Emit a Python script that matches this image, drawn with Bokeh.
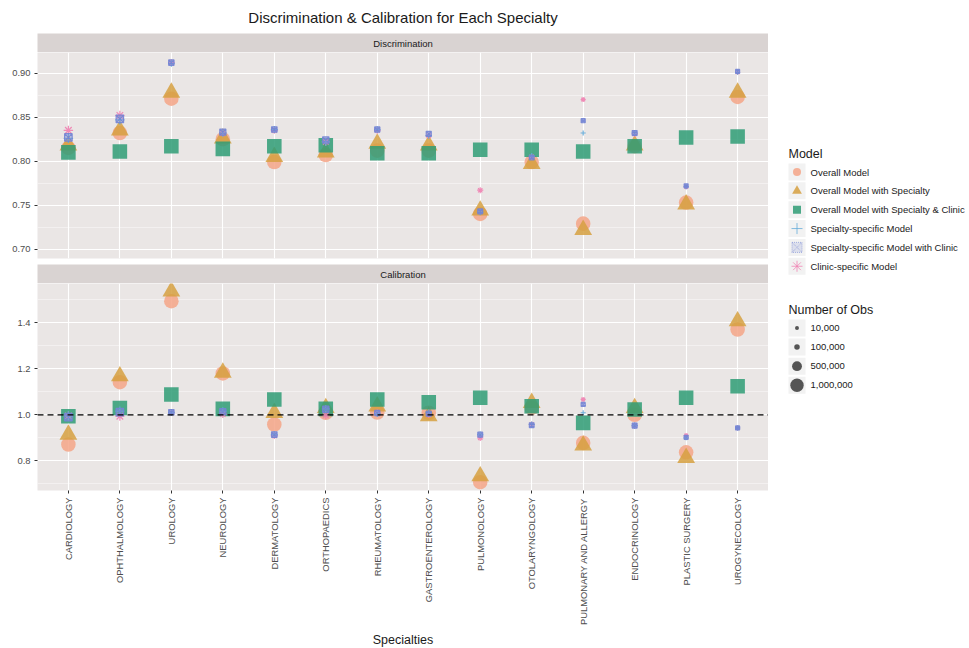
import math

from bokeh.core.properties import value
from bokeh.embed import file_html
from bokeh.layouts import column, row
from bokeh.models import (ColumnDataSource, FactorRange, NumeralTickFormatter,
                          Range1d, SingleIntervalTicker, Span)
from bokeh.plotting import figure
from bokeh.resources import INLINE

# ---------------------------------------------------------------- data
specialties = [
    "CARDIOLOGY", "OPHTHALMOLOGY", "UROLOGY", "NEUROLOGY", "DERMATOLOGY",
    "ORTHOPAEDICS", "RHEUMATOLOGY", "GASTROENTEROLOGY", "PULMONOLOGY",
    "OTOLARYNGOLOGY", "PULMONARY AND ALLERGY", "ENDOCRINOLOGY",
    "PLASTIC SURGERY", "UROGYNECOLOGY",
]

models = [
    "Overall Model",
    "Overall Model with Specialty",
    "Overall Model with Specialty & Clinic",
    "Specialty-specific Model",
    "Specialty-specific Model with Clinic",
    "Clinic-specific Model",
]

# Discrimination (AUC) per specialty, one list per model
disc_overall = [0.815, 0.832, 0.871, 0.825, 0.799, 0.807, 0.812, 0.812, 0.740, 0.799, 0.729, 0.817, 0.753, 0.873]
disc_overall_spec = [0.818, 0.835, 0.878, 0.826, 0.805, 0.810, 0.820, 0.818, 0.744, 0.797, 0.722, 0.818, 0.751, 0.878]
disc_overall_spec_clinic = [0.810, 0.811, 0.817, 0.814, 0.817, 0.818, 0.809, 0.809, 0.813, 0.813, 0.811, 0.817, 0.827, 0.828]
disc_spec = [0.826, 0.847, 0.911, 0.832, 0.836, 0.822, 0.836, 0.829, 0.742, 0.806, 0.832, 0.832, 0.771, 0.901]
disc_spec_clinic = [0.827, 0.848, 0.912, 0.833, 0.836, 0.824, 0.836, 0.831, 0.743, 0.804, 0.846, 0.832, 0.772, 0.902]
disc_clinic = [0.835, 0.852, 0.912, 0.832, 0.835, 0.822, 0.835, 0.829, 0.767, 0.805, 0.870, 0.831, 0.771, 0.901]

# Calibration (observed / expected) per specialty, one list per model
calib_overall = [0.871, 1.142, 1.494, 1.180, 0.958, 1.009, 1.010, 1.009, 0.707, 1.030, 0.878, 1.000, 0.837, 1.371]
calib_overall_spec = [0.914, 1.168, 1.537, 1.184, 1.009, 1.030, 1.037, 0.994, 0.733, 1.052, 0.867, 1.030, 0.813, 1.407]
calib_overall_spec_clinic = [0.994, 1.030, 1.088, 1.026, 1.067, 1.026, 1.067, 1.055, 1.074, 1.037, 0.965, 1.023, 1.074, 1.124]
calib_spec = [0.995, 1.016, 1.011, 1.016, 0.914, 1.026, 1.005, 1.010, 0.914, 0.958, 1.009, 0.953, 0.900, 0.943]
calib_spec_clinic = [0.990, 1.012, 1.011, 1.014, 0.914, 1.024, 1.008, 1.005, 0.914, 0.955, 1.045, 0.953, 0.902, 0.943]
calib_clinic = [0.995, 0.994, 1.010, 1.003, 0.910, 0.998, 1.010, 1.000, 0.900, 0.958, 1.067, 0.953, 0.910, 0.943]

# Number of observations used to fit each model
obs_overall = 1200000
obs_specialty = [260000, 250000, 90000, 140000, 100000, 160000, 80000, 70000, 60000, 50000, 15000, 60000, 12000, 12000]

obs_breaks = [10000, 100000, 500000, 1000000]
obs_break_labels = ["10,000", "100,000", "500,000", "1,000,000"]

disc_by_model = [disc_overall, disc_overall_spec, disc_overall_spec_clinic,
                 disc_spec, disc_spec_clinic, disc_clinic]
calib_by_model = [calib_overall, calib_overall_spec, calib_overall_spec_clinic,
                  calib_spec, calib_spec_clinic, calib_clinic]

# ---------------------------------------------------------------- styling
FONT = "Liberation Sans"
PANEL_BG = "#EAE6E5"
STRIP_BG = "#D9D3D2"
TEXT_DARK = "#1A1A1A"
TICK_TEXT = "#4D4D4D"

# marker, fill colour, line colour, size factor, filled?
MARKERS = [
    ("circle", "#F4A487", None, 1.0, True),
    ("triangle", "#D6A041", None, 1.22, True),
    ("square", "#2F9C76", None, 1.0, True),
    ("cross", "#5FA8D8", "#5FA8D8", 1.25, False),
    ("square_x", "#8895D8", "#7384D4", 1.0, False),
    ("asterisk", "#F07FB0", "#F07FB0", 1.25, False),
]
# the clinic-specific asterisks sit underneath the specialty-specific marks
DRAW_ORDER = [0, 1, 2, 5, 3, 4]


def obs_to_px(n):
    """Area-proportional size scale for the number of observations."""
    return math.sqrt(14 + 0.000165 * n)


FRAME_W = 731
LEFT = 37


def style_panel(p):
    p.background_fill_color = PANEL_BG
    p.border_fill_color = "white"
    p.outline_line_color = None
    p.ygrid.grid_line_color = "white"
    p.ygrid.grid_line_width = 1.1
    p.ygrid.minor_grid_line_color = "white"
    p.ygrid.minor_grid_line_width = 0.6
    p.ygrid.minor_grid_line_alpha = 0.7
    p.xgrid.grid_line_color = "white"
    p.xgrid.grid_line_width = 1.1
    for ax in p.yaxis:
        ax.axis_line_color = None
        ax.major_tick_line_color = "#333333"
        ax.major_tick_out = 3
        ax.major_tick_in = 0
        ax.minor_tick_line_color = None
        ax.major_label_text_font = FONT
        ax.major_label_text_font_size = "9.4px"
        ax.major_label_text_color = TICK_TEXT
        ax.major_label_standoff = 3


def add_points(p, values_by_model):
    for k in DRAW_ORDER:
        marker, fill, line, fac, filled = MARKERS[k]
        if k < 3:
            sizes = [obs_to_px(obs_overall) * fac for _ in specialties]
        else:
            sizes = [obs_to_px(n) * fac for n in obs_specialty]
        src = ColumnDataSource(dict(x=specialties, y=values_by_model[k], s=sizes))
        if filled:
            p.scatter("x", "y", size="s", marker=marker, source=src,
                      fill_color=fill, fill_alpha=0.85, line_color=None)
        elif marker == "square_x":
            p.scatter("x", "y", size="s", marker=marker, source=src,
                      fill_color=fill, fill_alpha=0.45, line_color=line,
                      line_width=1.2, line_alpha=0.9)
        else:
            p.scatter("x", "y", size="s", marker=marker, source=src,
                      fill_color=None, line_color=line, line_width=1.2,
                      line_alpha=0.9)


def make_x_range():
    return FactorRange(*specialties, range_padding=0.1,
                       range_padding_units="absolute")


def strip(label):
    s = figure(frame_width=FRAME_W, frame_height=19, min_border_left=LEFT,
               min_border_right=0, min_border_top=0, min_border_bottom=0,
               x_range=Range1d(0, 1), y_range=Range1d(0, 1),
               toolbar_location=None, output_backend="svg")
    s.axis.visible = False
    s.grid.visible = False
    s.outline_line_color = None
    s.background_fill_color = STRIP_BG
    s.border_fill_color = "white"
    s.text(x=[0.5], y=[0.5], text=[label], text_align="center",
           text_baseline="middle", text_font=value(FONT),
           text_font_size="9.5px", text_color=TEXT_DARK)
    return s


# ---------------------------------------------------------------- title
title_fig = figure(frame_width=FRAME_W, frame_height=33, min_border_left=LEFT,
                   min_border_right=0, min_border_top=0, min_border_bottom=0,
                   x_range=Range1d(0, 1), y_range=Range1d(0, 33),
                   toolbar_location=None, output_backend="svg")
title_fig.axis.visible = False
title_fig.grid.visible = False
title_fig.outline_line_color = None
title_fig.background_fill_color = "white"
title_fig.text(x=[0.5], y=[16], text=["Discrimination & Calibration for Each Specialty"],
               text_align="center", text_baseline="middle", text_font=value(FONT),
               text_font_size="15px", text_color=TEXT_DARK)

# ---------------------------------------------------------------- discrimination
top = figure(x_range=make_x_range(), y_range=Range1d(0.6894, 0.9235),
             frame_width=FRAME_W, frame_height=206, min_border_left=LEFT,
             min_border_right=0, min_border_top=0, min_border_bottom=6,
             toolbar_location=None, output_backend="svg")
top.yaxis.ticker = SingleIntervalTicker(interval=0.05, num_minor_ticks=2)
top.yaxis.formatter = NumeralTickFormatter(format="0.00")
style_panel(top)
top.xaxis.visible = False
add_points(top, disc_by_model)

# ---------------------------------------------------------------- calibration
bottom = figure(x_range=make_x_range(), y_range=Range1d(0.671, 1.571),
                frame_width=FRAME_W, frame_height=207, min_border_left=LEFT,
                min_border_right=0, min_border_top=0, min_border_bottom=0,
                toolbar_location=None, output_backend="svg")
bottom.yaxis.ticker = SingleIntervalTicker(interval=0.2, num_minor_ticks=2)
bottom.yaxis.formatter = NumeralTickFormatter(format="0.0")
style_panel(bottom)
bottom.add_layout(Span(location=1.0, dimension="width", line_color="black",
                       line_dash="6 4", line_width=1.3))
add_points(bottom, calib_by_model)
xa = bottom.xaxis[0]
xa.axis_line_color = None
xa.major_tick_line_color = "#333333"
xa.major_tick_out = 3
xa.major_tick_in = 0
xa.major_label_orientation = math.pi / 2
xa.major_label_text_font = FONT
xa.major_label_text_font_size = "9.4px"
xa.major_label_text_color = TICK_TEXT
xa.major_label_standoff = 4
xa.axis_label = "Specialties"
xa.axis_label_text_font = FONT
xa.axis_label_text_font_size = "12.5px"
xa.axis_label_text_font_style = "normal"
xa.axis_label_text_color = TEXT_DARK
xa.axis_label_standoff = 5

# ---------------------------------------------------------------- legend
LEG_W, LEG_H = 201, 648
leg = figure(frame_width=LEG_W, frame_height=LEG_H, min_border=0,
             x_range=Range1d(0, LEG_W), y_range=Range1d(LEG_H, 0),
             toolbar_location=None, output_backend="svg")
leg.axis.visible = False
leg.grid.visible = False
leg.outline_line_color = None
leg.background_fill_color = "white"
leg.border_fill_color = "white"

key_x, text_x, title_x = 28.5, 42, 20
model_title_y, model_y0, model_dy = 153, 171.5, 18.85
obs_title_y, obs_y0, obs_dy = 309, 327.5, 19.1

leg.text(x=[title_x, title_x], y=[model_title_y, obs_title_y],
         text=["Model", "Number of Obs"], text_baseline="middle",
         text_font=value(FONT), text_font_size="12.5px",
         text_font_style="normal", text_color=TEXT_DARK)

model_keys_y = [model_y0 + i * model_dy for i in range(len(models))]
obs_keys_y = [obs_y0 + i * obs_dy for i in range(len(obs_breaks))]
leg.rect(x=[key_x] * (len(models) + len(obs_breaks)), y=model_keys_y + obs_keys_y,
         width=17, height=17, fill_color="#F2F2F2", line_color=None)

for k, (marker, fill, line, fac, filled) in enumerate(MARKERS):
    if filled:
        leg.scatter([key_x], [model_keys_y[k]], marker=marker, size=8 * fac,
                    fill_color=fill, fill_alpha=0.85, line_color=None)
    elif marker == "square_x":
        leg.scatter([key_x], [model_keys_y[k]], marker=marker, size=10,
                    fill_color=fill, fill_alpha=0.2, line_color=line,
                    line_width=1.0, line_alpha=0.6, line_dash="1 1")
    else:
        leg.scatter([key_x], [model_keys_y[k]], marker=marker, size=11,
                    fill_color=None, line_color=line, line_width=1.0, line_alpha=0.75)
leg.text(x=[text_x] * len(models), y=model_keys_y, text=models,
         text_baseline="middle", text_font=value(FONT), text_font_size="9.5px",
         text_color=TEXT_DARK)

leg.scatter([key_x] * len(obs_breaks), obs_keys_y,
            size=[obs_to_px(n) for n in obs_breaks], marker="circle",
            fill_color="#555555", line_color=None)
leg.text(x=[text_x] * len(obs_breaks), y=obs_keys_y, text=obs_break_labels,
         text_baseline="middle", text_font=value(FONT), text_font_size="9.5px",
         text_color=TEXT_DARK)

# ---------------------------------------------------------------- layout
panels = column(title_fig, strip("Discrimination"), top,
                strip("Calibration"), bottom, spacing=0)
page = row(panels, leg, spacing=0)

with open("out.html", "w") as f:
    f.write(file_html(page, INLINE, title="Discrimination & Calibration for Each Specialty"))
